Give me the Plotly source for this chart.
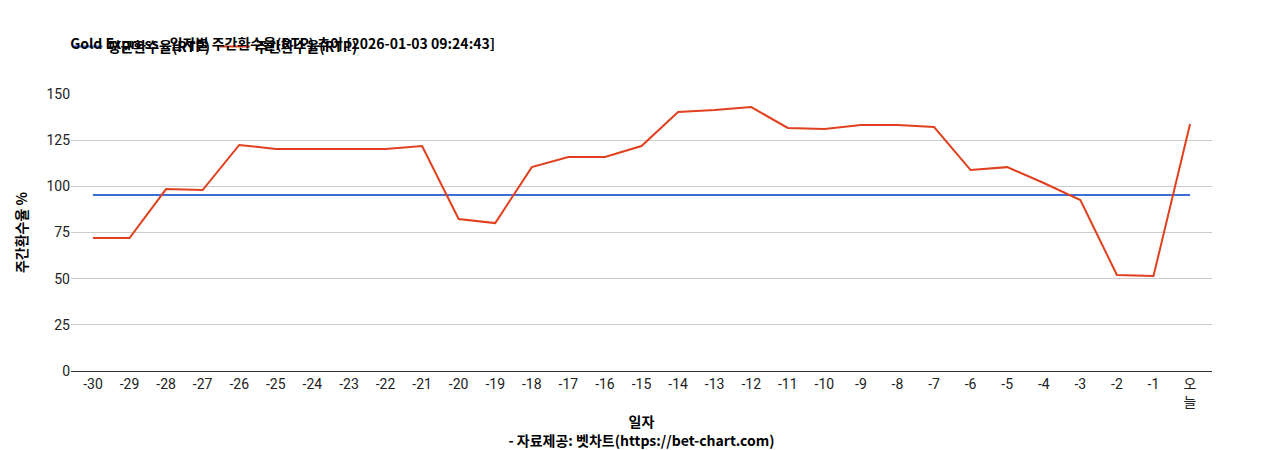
import plotly.graph_objects as go

days = [str(i) for i in range(-30, 0)] + ["오<br>늘"]
rtp = [72, 72, 98.5, 98, 122.4, 120.2, 120.2, 120.2, 120.2, 121.8, 82.3, 80.1, 110.4, 115.9, 115.9,
       121.8, 140.2, 141.3, 142.9, 131.6, 131, 133.2, 133.2, 132.1, 108.8, 110.4, 101.8, 92.6, 52, 51.4, 133.7]
avg = [95.3] * len(days)

fig = go.Figure()
fig.add_trace(go.Scatter(x=days, y=avg, mode="lines", name="<b>평균환수율(RTP)</b>", line=dict(color="#3b6fd6", width=2)))
fig.add_trace(go.Scatter(x=days, y=rtp, mode="lines", name="<b>주간환수율(RTP)</b>", line=dict(color="#e0401e", width=2)))
fig.update_layout(
    width=1268, height=450, plot_bgcolor="white", paper_bgcolor="white",
    font=dict(family="Roboto, Noto Sans CJK KR", size=14, color="#222"),
    margin=dict(l=63, r=64, t=86, b=87, autoexpand=False),
    title=dict(text="<b>Gold Express - 일자별 주간환수율(RTP) 추이 [2026-01-03 09:24:43]</b>", x=0.049, y=0.93, xanchor="left", font=dict(size=14, color="#000", family="Noto Sans CJK KR")),
    legend=dict(orientation="h", x=-0.003, y=1.17, xanchor="left", yanchor="middle", font=dict(size=14, color="#000", family="Noto Sans CJK KR")),
    xaxis=dict(title=dict(text="<b>일자</b><br><b>- 자료제공: 벳차트(https://bet-chart.com)</b>", font=dict(size=14, color="#000", family="Noto Sans CJK KR"), standoff=8),
               showline=True, linecolor="#333", ticks="", tickfont=dict(size=14), range=[-0.6, 30.6]),
    yaxis=dict(title=dict(text="<b>주간환수율 %</b>", font=dict(size=14, color="#000", family="Noto Sans CJK KR")), range=[0, 150], dtick=25,
               gridcolor="#ccc", zeroline=False, tickfont=dict(size=14)),
)
fig.write_html("out.html")
